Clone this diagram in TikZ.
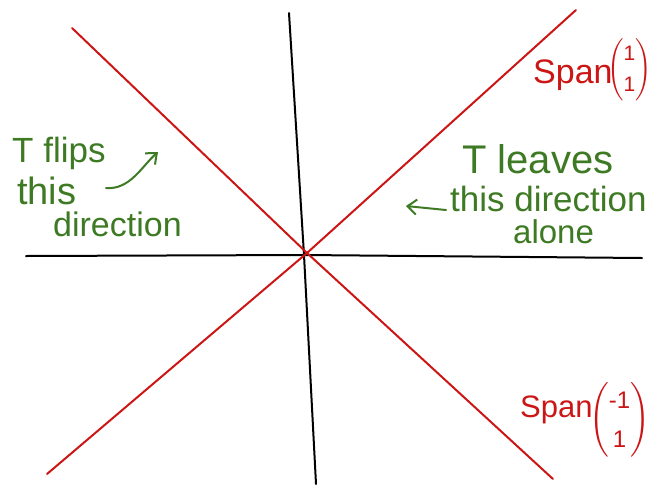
\documentclass[tikz,border=0pt]{standalone}
\usepackage{amsmath}
\usepackage{fontspec}
\setmainfont{Liberation Sans}
\usetikzlibrary{arrows.meta}
\definecolor{inkred}{RGB}{204,22,22}
\definecolor{inkgreen}{RGB}{62,122,36}
\newcommand{\colvec}[3]{\renewcommand\arraystretch{#3}\ensuremath{\left(\begin{array}{@{}c@{}}\text{#1}\\ \text{#2}\end{array}\right)}}
\begin{document}
\begin{tikzpicture}[x=1pt,y=-1pt,
  axisline/.style={line width=2pt, black, line cap=round, line join=round},
  redline/.style={line width=2pt, inkred, line cap=round, line join=round},
  gtext/.style={inkgreen, inner sep=0pt, anchor=base west},
  rtext/.style={inkred, inner sep=0pt, anchor=base west},
  vecnode/.style={inkred, inner sep=0pt, anchor=east},
  garrow/.style={line width=2pt, inkgreen, line cap=round, -{Straight Barb[length=9pt,width=15pt,line width=2pt]}}]
\useasboundingbox (0,0) rectangle (654,491);
% axes
\coordinate (h1) at (26,256);
\coordinate (hc) at (304,255);
\coordinate (h2) at (642,258);
\coordinate (v1) at (289,13);
\coordinate (vc) at (304,255);
\coordinate (v2) at (316,484);
\draw[axisline] (h1) -- (hc) -- (h2);
\draw[axisline] (v1) -- (vc) -- (v2);
% red lines
\coordinate (O) at (307,253);
\coordinate (a1) at (72,28);
\coordinate (a2) at (553,479);
\coordinate (b1) at (576,10);
\coordinate (b2) at (47,474);
\draw[redline] (a1) -- (O) -- (a2);
\draw[redline] (b1) -- (O) -- (b2);
% span labels
\node[rtext, font=\fontsize{34}{40}\selectfont] (s1) at (533,83) {Span};
\node[vecnode, font=\fontsize{21}{25}\selectfont] (m1) at (652,70) {\colvec{1}{1}{1.25}};
\node[rtext, font=\fontsize{31}{37}\selectfont] (s2) at (520,417) {Span};
\node[vecnode, font=\fontsize{24}{28.8}\selectfont] (m2) at (650,420) {\colvec{-1}{1}{1.35}};
% left green text
\node[gtext, font=\fontsize{35}{40}\selectfont] (tf) at (12,162) {T flips};
\node[gtext, font=\fontsize{38}{44}\selectfont] (th) at (17,204) {this};
\node[gtext, font=\fontsize{34}{40}\selectfont] (di) at (53,236) {direction};
\coordinate (la1) at (106,188);
\coordinate (la2) at (158,152);
\draw[garrow] (la1) .. controls (130,190) and (142,166) .. (la2);
% right green text
\node[gtext, font=\fontsize{40}{44}\selectfont] (tl) at (462,173) {T leaves};
\node[gtext, font=\fontsize{35}{40}\selectfont] (td) at (450,211) {this direction};
\node[gtext, font=\fontsize{33}{40}\selectfont] (al) at (513,243) {alone};
\coordinate (ra1) at (446,210);
\coordinate (ra2) at (406,206);
\draw[garrow] (ra1) -- (ra2);
\end{tikzpicture}
\end{document}
